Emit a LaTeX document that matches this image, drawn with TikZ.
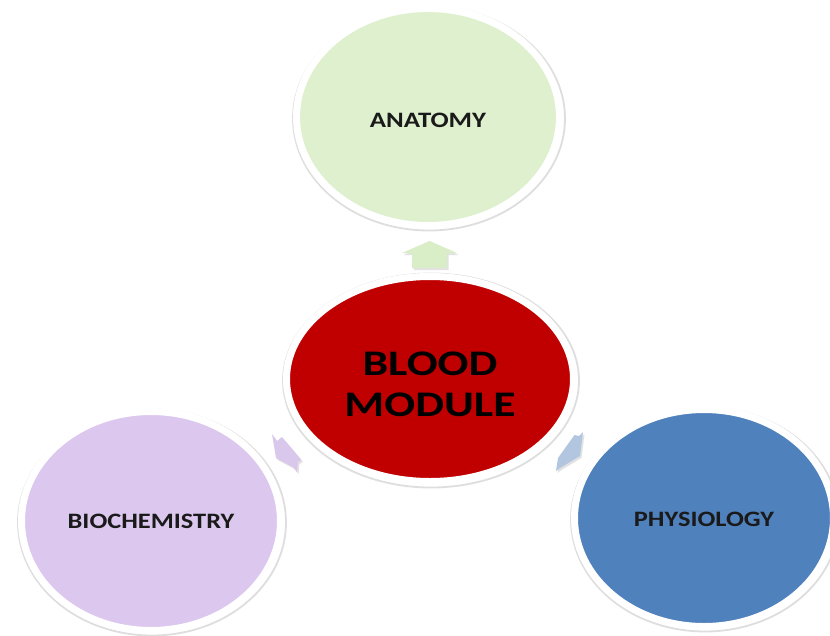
\documentclass[tikz,border=0pt]{standalone}
\usepackage{fontspec}
\setmainfont{Carlito}
\usetikzlibrary{shapes.geometric}
\definecolor{anatfill}{HTML}{DEF0CE}
\definecolor{bloodfill}{HTML}{C00000}
\definecolor{biofill}{HTML}{DCC8EE}
\definecolor{physfill}{HTML}{4F81BD}
\definecolor{uparrowc}{HTML}{D9EDC6}
\definecolor{leftarrowc}{HTML}{D9C7EC}
\definecolor{rightarrowc}{HTML}{B3C6E0}
\definecolor{labeltext}{HTML}{1A1A1A}
\tikzset{
  bubble/.style={ellipse, draw=white, line width=7pt, inner sep=0pt},
  smalllabel/.style={inner sep=0pt, font=\bfseries\fontsize{22}{26}\selectfont, text=labeltext},
  biglabel/.style={inner sep=0pt, font=\bfseries\fontsize{36}{41}\selectfont, text=black, align=center},
  shadowline/.style={draw=black!13, line width=1.8pt},
  arrowshadow/.style={fill=black!25, opacity=0.45},
}
\begin{document}
\begin{tikzpicture}[x=1pt,y=-1pt]
\useasboundingbox (0,0) rectangle (830,635);
\fill[white] (0,0) rectangle (830,635);

% block arrows (shadows first)
\fill[arrowshadow] (430.5,243) -- (458.5,255) -- (448.5,255) -- (448.5,270) -- (413.5,270) -- (413.5,255) -- (403.5,255) -- cycle;
\fill[uparrowc] (429.5,241) -- (457,253) -- (447,253) -- (447,268) -- (412,268) -- (412,253) -- (402,253) -- cycle;

\fill[arrowshadow] (273.5,436) -- (278.5,443) -- (283.5,439) -- (303,462) -- (299.5,464) -- (298.5,474) -- (294.5,469) -- (277.5,460) -- cycle;
\fill[leftarrowc] (272,434) -- (277,441) -- (282,437) -- (301.5,460) -- (298,462) -- (297,472) -- (293,467) -- (276,458) -- cycle;

\fill[arrowshadow] (584.5,434) -- (580.5,438) -- (576,437) -- (559.5,460) -- (557.5,473) -- (561.5,470) -- (581.5,458) -- cycle;
\fill[rightarrowc] (583,432) -- (579,436) -- (574.5,435) -- (558,458) -- (556,471) -- (560,468) -- (580,456) -- cycle;

% soft outer edges
\draw[shadowline] (429,118.5) ellipse [x radius=136pt, y radius=112pt];
\draw[shadowline] (431,380.5) ellipse [x radius=148pt, y radius=107pt];
\draw[shadowline] (152,522.5) ellipse [x radius=134pt, y radius=113pt];
\draw[shadowline] (705,519.5) ellipse [x radius=134pt, y radius=112pt];

% bubbles
\node[bubble, fill=anatfill, minimum width=263pt, minimum height=217pt] (anat) at (428,117) {};
\node[bubble, fill=bloodfill, minimum width=287pt, minimum height=205pt] (blood) at (430,379) {};
\node[bubble, fill=biofill, minimum width=259pt, minimum height=219pt] (bio) at (151,521) {};
\node[bubble, fill=physfill, minimum width=259pt, minimum height=217pt] (phys) at (704,518) {};

% texts
\node[smalllabel] (anattext) at ([yshift=-3pt]anat.center) {\scalebox{1.22}[1]{ANATOMY}};
\node[biglabel] (bloodtext) at ([yshift=-5pt]blood.center) {\scalebox{1.27}[1]{BLOOD}\\\scalebox{1.27}[1]{MODULE}};
\node[smalllabel] (biotext) at (bio.center) {\scalebox{1.2}[1]{BIOCHEMISTRY}};
\node[smalllabel] (phystext) at ([yshift=-1.5pt]phys.center) {\scalebox{1.2}[1]{PHYSIOLOGY}};
\end{tikzpicture}
\end{document}
